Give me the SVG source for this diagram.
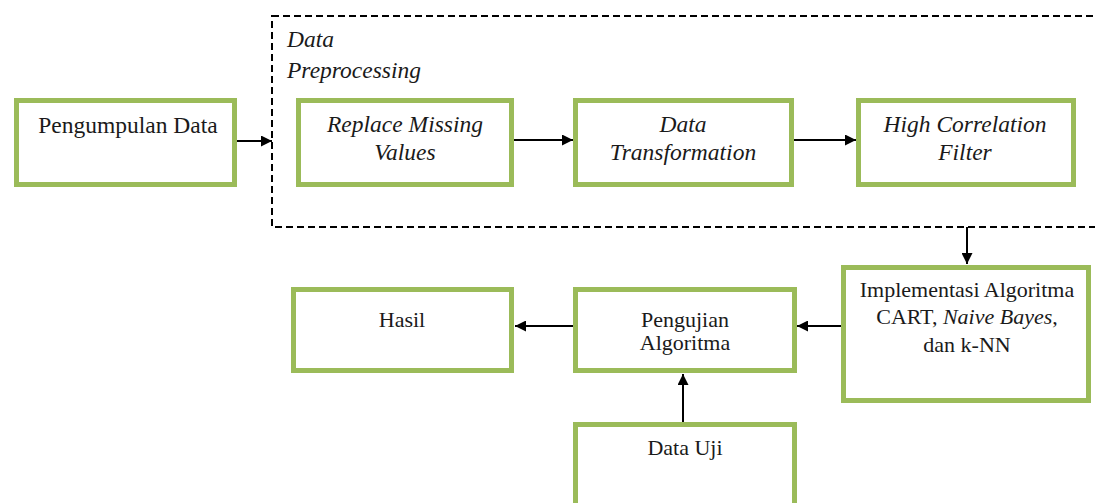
<svg xmlns="http://www.w3.org/2000/svg" width="1095" height="503" viewBox="0 0 1095 503">
<defs>
<style>
.box{fill:#fff;stroke:#9bbb59;stroke-width:5}
.t{font-family:"Liberation Serif","DejaVu Serif",serif;font-size:22px;fill:#1a1a1a;text-anchor:middle}
.u{font-size:23.5px}
.i{font-style:italic}
.c{stroke:#000;stroke-width:2;fill:none;marker-end:url(#ah)}
.dash{fill:none;stroke:#000;stroke-width:2;stroke-dasharray:7,4}
</style>
<marker id="ah" viewBox="0 0 10 10" refX="10" refY="5" markerWidth="5.5" markerHeight="5.5" markerUnits="strokeWidth" orient="auto">
<path d="M0,0 L10,5 L0,10 z" fill="#000"/>
</marker>
</defs>
<rect width="1095" height="503" fill="#fff"/>
<g id="preprocessing-group">
<rect class="dash" x="272" y="16" width="840" height="211"/>
<text class="t u i" style="text-anchor:start" x="287" y="47">Data</text>
<text class="t u i" style="text-anchor:start" x="287" y="78">Preprocessing</text>
</g>
<g id="connectors">
<line class="c" x1="237" y1="141" x2="272" y2="141"/>
<line class="c" x1="514" y1="140" x2="573" y2="140"/>
<line class="c" x1="794" y1="140" x2="856" y2="140"/>
<line class="c" x1="967" y1="227" x2="967" y2="264"/>
<line class="c" x1="841" y1="326" x2="797" y2="326"/>
<line class="c" x1="573" y1="326" x2="515" y2="326"/>
<line class="c" x1="683" y1="422" x2="683" y2="374"/>
</g>
<g id="pengumpulan-data">
<rect class="box" x="16.5" y="100.5" width="218" height="84"/>
<text class="t u" x="128" y="133">Pengumpulan Data</text>
</g>
<g id="replace-missing-values">
<rect class="box" x="298.5" y="100.5" width="213" height="84"/>
<text class="t u i" x="405" y="132">Replace Missing</text>
<text class="t u i" x="405" y="160">Values</text>
</g>
<g id="data-transformation">
<rect class="box" x="575.5" y="100.5" width="216" height="84"/>
<text class="t u i" x="683" y="132">Data</text>
<text class="t u i" x="683" y="160">Transformation</text>
</g>
<g id="high-correlation-filter">
<rect class="box" x="858.5" y="100.5" width="215" height="84"/>
<text class="t u i" x="965" y="132">High Correlation</text>
<text class="t u i" x="965" y="160">Filter</text>
</g>
<g id="implementasi">
<rect class="box" x="843.5" y="267.5" width="245" height="133"/>
<text class="t" x="967" y="297">Implementasi Algoritma</text>
<text class="t" x="967" y="324">CART, <tspan font-style="italic">Naive Bayes</tspan>,</text>
<text class="t" x="967" y="352">dan k-NN</text>
</g>
<g id="pengujian-algoritma">
<rect class="box" x="575.5" y="289.5" width="219" height="81"/>
<text class="t" x="685" y="327">Pengujian</text>
<text class="t" x="685" y="350">Algoritma</text>
</g>
<g id="hasil">
<rect class="box" x="293.5" y="289.5" width="218" height="81"/>
<text class="t" x="402" y="327">Hasil</text>
</g>
<g id="data-uji">
<rect class="box" x="575.5" y="424.5" width="219" height="90"/>
<text class="t" x="685" y="455">Data Uji</text>
</g>
</svg>
